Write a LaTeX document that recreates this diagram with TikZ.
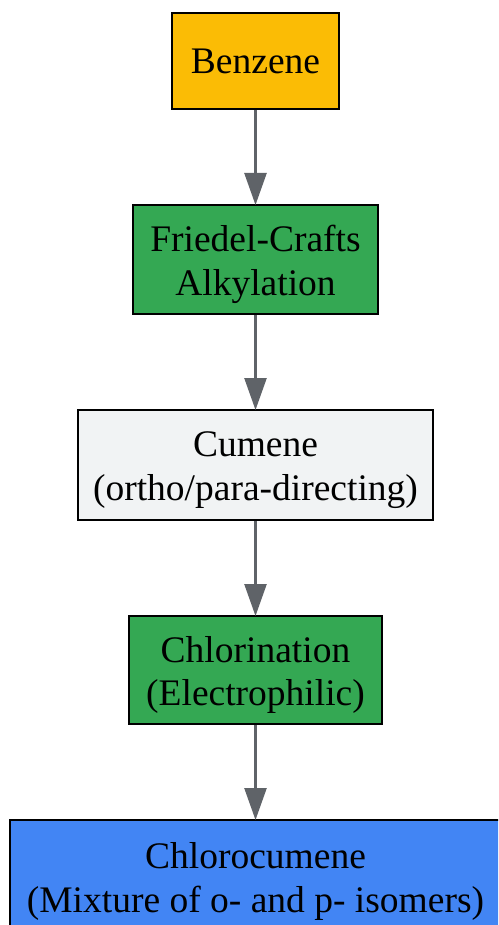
\documentclass[tikz,border=0pt]{standalone}
\usepackage{fontspec}
\setmainfont{Liberation Serif}
\usetikzlibrary{arrows.meta}
\definecolor{cyellow}{HTML}{FBBC05}
\definecolor{cgreen}{HTML}{34A853}
\definecolor{cgray}{HTML}{F1F3F4}
\definecolor{cblue}{HTML}{4285F4}
\definecolor{carrow}{HTML}{5F6368}
\begin{document}
\begin{tikzpicture}[x=1pt,y=-1pt,
  box/.style={draw=black, line width=2pt, inner sep=0pt},
  txt/.style={align=center, inner sep=0pt, font=\fontsize{37.5}{43.5}\selectfont},
  flow/.style={draw=carrow, line width=2.5pt,
    -{Triangle[width=22pt,length=32pt]}, shorten >=-1pt}]
\useasboundingbox (0,0) rectangle (498,925);
\clip (0,0) rectangle (498,925);
\node[box, fill=cyellow, minimum width=167pt, minimum height=96pt] (benz) at (255.5,61) {};
\node[txt] (benzt) at (benz.center) {Benzene};
\node[box, fill=cgreen, minimum width=245pt, minimum height=109pt] (fc) at (255.5,259.5) {};
\node[txt] (fct) at ([yshift=-5pt]fc.center) {Friedel-Crafts\\Alkylation};
\node[box, fill=cgray, minimum width=355pt, minimum height=110pt] (cum) at (255.5,465) {};
\node[txt] (cumt) at ([yshift=-5pt]cum.center) {Cumene\\(ortho/para-directing)};
\node[box, fill=cgreen, minimum width=253pt, minimum height=108pt] (chl) at (255.5,670) {};
\node[txt] (chlt) at ([yshift=-5pt]chl.center) {Chlorination\\(Electrophilic)};
\node[box, fill=cblue, minimum width=491pt, minimum height=113pt] (cc) at (255.5,876.5) {};
\node[txt] (cct) at ([yshift=-5pt]cc.center) {Chlorocumene\\(Mixture of o- and p- isomers)};
\draw[flow] (benz.south) -- (fc.north);
\draw[flow] (fc.south) -- (cum.north);
\draw[flow] (cum.south) -- (chl.north);
\draw[flow] (chl.south) -- (cc.north);
\end{tikzpicture}
\end{document}
